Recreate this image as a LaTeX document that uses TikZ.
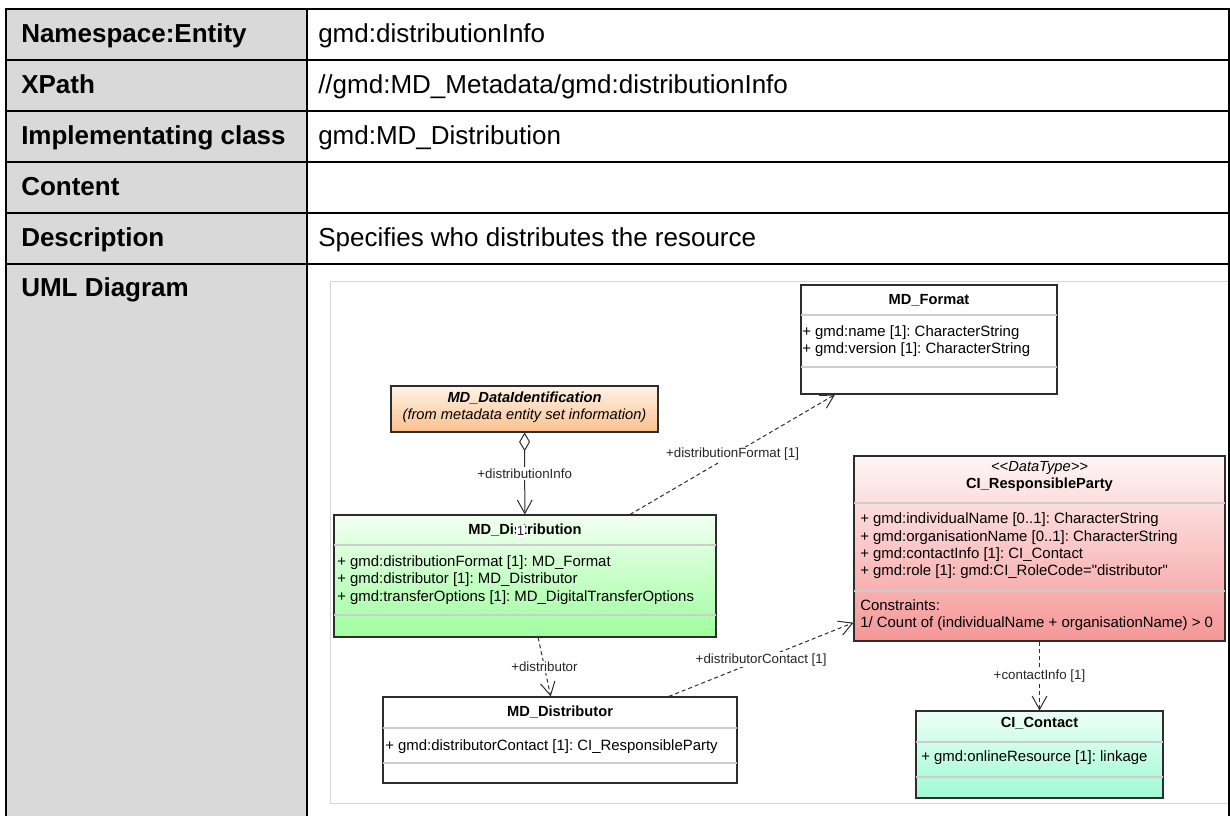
\documentclass[tikz,border=0pt]{standalone}
\usepackage{fontspec}
\setmainfont{Liberation Sans}
\newfontfamily\umlsans{Liberation Sans}
\usetikzlibrary{arrows.meta,positioning,fit}
\frenchspacing

\definecolor{headgray}{RGB}{217,217,217}
\definecolor{framegray}{RGB}{214,214,214}
\definecolor{sepgray}{RGB}{205,205,205}
\definecolor{umlline}{RGB}{45,45,45}
\definecolor{greentop}{RGB}{242,255,242}
\definecolor{greenbot}{RGB}{158,255,158}
\definecolor{orangetop}{RGB}{255,243,230}
\definecolor{orangebot}{RGB}{250,192,142}
\definecolor{redtop}{RGB}{255,246,246}
\definecolor{redbot}{RGB}{245,150,150}
\definecolor{minttop}{RGB}{236,255,246}
\definecolor{mintbot}{RGB}{160,250,212}

\tikzset{
  tableline/.style={line width=1.5pt, line cap=rect},
  cellhead/.style={anchor=west, inner sep=0pt, text height=0.72em, text depth=0pt,
    font=\fontsize{19.5}{23}\selectfont\bfseries},
  cellval/.style={anchor=west, inner sep=0pt, text height=0.72em, text depth=0pt,
    font=\fontsize{19.5}{23}\selectfont},
  umlclass/.style={draw=umlline, line width=0.8pt, inner sep=0pt},
  umlsep/.style={draw=sepgray, line width=1.5pt, shorten <=0.6pt, shorten >=0.6pt},
  umltext/.style={inner sep=0pt, text height=0.72em, text depth=0pt,
    font=\umlsans\fontsize{11.2}{13}\selectfont},
  umltitle/.style={umltext, font=\umlsans\fontsize{11}{13}\selectfont\bfseries},
  umlattr/.style={umltext, anchor=west},
  rolelabel/.style={fill=white, inner sep=1pt, text=black!85,
    font=\umlsans\fontsize{10}{12}\selectfont},
  deplink/.style={draw=umlline, line width=0.75pt, dash pattern=on 3pt off 2.25pt,
    -{Straight Barb[length=10pt,width=11pt]}},
  assoclink/.style={draw=umlline, line width=0.75pt,
    {Diamond[fill=white,length=14pt,width=8.25pt]}-{Straight Barb[length=10pt,width=11pt]}}
}

\begin{document}
\begin{tikzpicture}[x=0.75pt,y=-0.75pt]
  \useasboundingbox (0,0) rectangle (1230,816);
  % table
  \fill[headgray] (6,9) rectangle (307,816);
  \draw[framegray, line width=0.75pt] (330,282) rectangle (1229,803);
  \foreach \y in {9,60,111,162,213,264}
    \draw[tableline] (6,\y) -- (1229,\y);
  \foreach \x in {6,307,1229}
    \draw[tableline] (\x,9) -- (\x,817);
  \node[cellhead] (hns) at (21,37.5) {Namespace:Entity};
  \node[cellhead] (hxp) at (21,88.5) {XPath};
  \node[cellhead] (hic) at (21,139.5) {Implementating class};
  \node[cellhead] (hco) at (21,190.5) {Content};
  \node[cellhead] (hde) at (21,241.5) {Description};
  \node[cellhead] (huml) at (21,292) {UML Diagram};
  \node[cellval] (vns) at (318,37.5) {gmd:distributionInfo};
  \node[cellval] (vxp) at (318,88.5) {//gmd:MD\_Metadata/gmd:distributionInfo};
  \node[cellval] (vic) at (318,139.5) {gmd:MD\_Distribution};
  \node[cellval] (vde) at (318,241.5) {Specifies who distributes the resource};

  % MD_Format
  \node[umlclass, fill=white, fit={(801,285) (1057,394)}] (fmt) {};
  \draw[umlsep] (fmt.west |- 0,315) -- (fmt.east |- 0,315);
  \draw[umlsep] (fmt.west |- 0,367) -- (fmt.east |- 0,367);
  \node[umltitle] (fmt-t) at (929,300) {MD\_Format};
  \node[umlattr] (fmt-a1) at (802,332) {+ gmd:name [1]: CharacterString};
  \node[umlattr] (fmt-a2) at (802,349) {+ gmd:version [1]: CharacterString};

  % MD_DataIdentification
  \node[umlclass, top color=orangetop, bottom color=orangebot,
    fit={(391,386) (658,432)}] (ident) {};
  \node[umltext, font=\umlsans\fontsize{11}{13}\selectfont\bfseries\itshape]
    (ident-t) at (524.5,398) {MD\_DataIdentification};
  \node[umltext, font=\umlsans\fontsize{11}{13}\selectfont\itshape]
    (ident-s) at (524.5,415) {(from metadata entity set information)};

  % MD_Distribution
  \node[umlclass, top color=greentop, bottom color=greenbot,
    fit={(334,515) (716,637)}] (dist) {};
  \draw[umlsep] (dist.west |- 0,545) -- (dist.east |- 0,545);
  \draw[umlsep] (dist.west |- 0,615) -- (dist.east |- 0,615);
  \node[umltitle] (dist-t) at (525,530) {MD\_Distribution};
  \node[umlattr] (dist-a1) at (337,562) {+ gmd:distributionFormat [1]: MD\_Format};
  \node[umlattr] (dist-a2) at (337,579) {+ gmd:distributor [1]: MD\_Distributor};
  \node[umlattr] (dist-a3) at (337,597) {+ gmd:transferOptions [1]: MD\_DigitalTransferOptions};

  % MD_Distributor
  \node[umlclass, fill=white, fit={(383,697) (737,783)}] (distr) {};
  \draw[umlsep] (distr.west |- 0,728) -- (distr.east |- 0,728);
  \draw[umlsep] (distr.west |- 0,763) -- (distr.east |- 0,763);
  \node[umltitle] (distr-t) at (560,712) {MD\_Distributor};
  \node[umlattr] (distr-a1) at (385,746) {+ gmd:distributorContact [1]: CI\_ResponsibleParty};

  % CI_ResponsibleParty
  \node[umlclass, top color=redtop, bottom color=redbot,
    fit={(854,456) (1225,641)}] (party) {};
  \draw[umlsep] (party.west |- 0,503) -- (party.east |- 0,503);
  \draw[umlsep] (party.west |- 0,591) -- (party.east |- 0,591);
  \node[umltext, font=\umlsans\fontsize{11}{13}\selectfont\itshape]
    (party-st) at (1039.5,467) {<<DataType>>};
  \node[umltitle] (party-t) at (1039.5,484) {CI\_ResponsibleParty};
  \node[umlattr] (party-a1) at (860,519) {+ gmd:individualName [0..1]: CharacterString};
  \node[umlattr] (party-a2) at (860,536.5) {+ gmd:organisationName [0..1]: CharacterString};
  \node[umlattr] (party-a3) at (860,554) {+ gmd:contactInfo [1]: CI\_Contact};
  \node[umlattr] (party-a4) at (860,571) {+ gmd:role [1]: gmd:CI\_RoleCode="distributor"};
  \node[umlattr] (party-c1) at (860,606) {Constraints:};
  \node[umlattr] (party-c2) at (860,623) {1/ Count of (individualName + organisationName) > 0};

  % CI_Contact
  \node[umlclass, top color=minttop, bottom color=mintbot,
    fit={(916,711) (1163,798)}] (contact) {};
  \draw[umlsep] (contact.west |- 0,742) -- (contact.east |- 0,742);
  \draw[umlsep] (contact.west |- 0,777) -- (contact.east |- 0,777);
  \node[umltitle] (contact-t) at (1039.5,723) {CI\_Contact};
  \node[umlattr] (contact-a1) at (921,757) {+ gmd:onlineResource [1]: linkage};

  % connectors
  \draw[assoclink] (ident) -- (dist) node[rolelabel, midway] (l-info) {+distributionInfo};
  \draw[deplink] (dist) -- (fmt) node[rolelabel, midway] (l-fmt) {+distributionFormat [1]};
  \draw[deplink] (dist) -- (distr) node[rolelabel, midway] (l-distr) {+distributor};
  \draw[deplink] (distr) -- (party) node[rolelabel, midway] (l-cont) {+distributorContact [1]};
  \draw[deplink] (party) -- (contact) node[rolelabel, midway] (l-ci) {+contactInfo [1]};
  \node[rolelabel, inner sep=0.8pt] (mult) at (520.5,531) {1};
\end{tikzpicture}
\end{document}
